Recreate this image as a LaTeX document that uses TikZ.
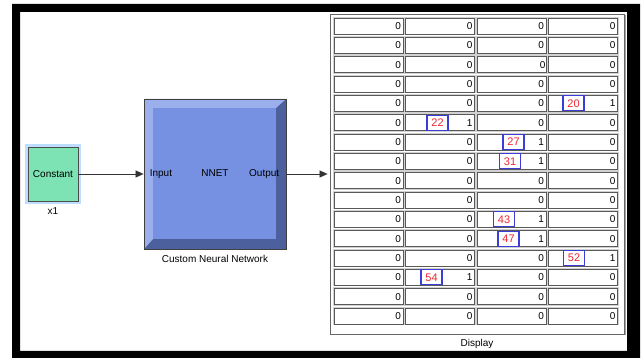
\documentclass[tikz,border=0pt]{standalone}
\usepackage{fontspec}
\setmainfont{Liberation Sans}
\usetikzlibrary{arrows.meta,shadows}

\definecolor{nnetface}{RGB}{118,145,226}
\definecolor{nnetlight}{RGB}{155,175,236}
\definecolor{nnetdark}{RGB}{76,96,158}
\definecolor{constgreen}{RGB}{125,226,180}
\definecolor{glowblue}{RGB}{190,222,255}
\definecolor{tagred}{RGB}{240,40,50}
\definecolor{tagblue}{RGB}{60,60,215}

\newcommand\lowzero{\raisebox{-2.5pt}{0}\kern-1.5pt}

\tikzset{
  constbox/.style={draw=black!70, fill=constgreen, line width=0.8pt,
    minimum width=50pt, minimum height=54pt, inner sep=0pt,
    preaction={draw=glowblue, line width=6pt}},
  nnetbox/.style={draw=black!75, fill=nnetdark, line width=0.8pt,
    minimum width=142pt, minimum height=150pt, inner sep=0pt,
    text height=7pt, text depth=2pt,
    path picture={
      \fill[nnetlight] (path picture bounding box.north west)
        -- (path picture bounding box.north east)
        -- ([xshift=-10pt,yshift=-9pt]path picture bounding box.north east)
        -- ([xshift=9pt,yshift=-9pt]path picture bounding box.north west)
        -- ([xshift=9pt,yshift=10pt]path picture bounding box.south west)
        -- (path picture bounding box.south west) -- cycle;
      \fill[nnetface] ([xshift=9pt,yshift=-9pt]path picture bounding box.north west)
        rectangle ([xshift=-10pt,yshift=10pt]path picture bounding box.south east);
    }},
  portlbl/.style={inner sep=0pt},
  panel/.style={draw=black!60, fill=white, line width=0.8pt,
    minimum width=294pt, minimum height=320pt,
    drop shadow={shadow xshift=1.5pt, shadow yshift=-1.5pt, fill=black!60, opacity=0.6}},
  cellbox/.style={draw=black!65, fill=white, line width=0.7pt,
    preaction={draw=black!18, line width=2.4pt},
    minimum width=69pt, minimum height=16pt, text width=65pt,
    align=right, inner xsep=2pt, inner ysep=0pt},
  tagbox/.style={draw=tagblue, fill=white, text=tagred, line width=1.1pt,
    minimum width=21pt, minimum height=15pt, inner sep=0pt,
    font=\fontsize{11}{12}\selectfont},
  conn/.style={-{Triangle[length=8pt,width=7pt]}, black!80, line width=0.7pt},
}

\begin{document}
\begin{tikzpicture}[x=1pt,y=-1pt,every node/.style={font=\fontsize{10}{12}\selectfont}]
  \useasboundingbox (0,0) rectangle (641,358);
  % window frame
  \fill[black, even odd rule] (12,4) rectangle (640,358) (20,12) rectangle (627,351);

  % blocks
  \node[constbox] (const) at (53,174) {Constant};
  \node (x1) at (53,211) {x1};
  \node[nnetbox] (nnet) at (215,174) {NNET};
  \node[portlbl, anchor=base west] (nin) at ([xshift=6pt]nnet.base west) {Input};
  \node[portlbl, anchor=base east] (nout) at ([xshift=-7pt]nnet.base east) {Output};
  \node (nnetname) at (215,259) {Custom Neural Network};
  \node[panel] (disp) at (477,174) {};
  \node (dispname) at (477,344) {Display};

  % display cells
  \foreach \vals [count=\r] in {{0,0,0,0},{0,0,0,0},{0,0,\lowzero,0},{0,0,0,0},
      {0,0,0,1},{0,1,0,0},{0,0,1,0},{0,0,1,0},{0,0,0,0},{0,0,0,0},
      {0,0,1,0},{0,0,1,0},{0,0,0,1},{0,1,0,0},{0,0,0,0},{0,0,0,0}}
    \foreach \v [count=\k] in \vals
      \node[cellbox] (c\r-\k) at ({368.5+71.5*(\k-1)},{26+19.33*(\r-1)}) {\v};

  % tags
  \foreach \cell/\dx/\t in {c5-4/-9.5/20, c6-2/-2.5/22, c7-3/2/27, c8-3/-1.5/31,
      c11-3/-7.5/43, c12-3/-3/47, c13-4/-9/52, c14-2/-8.5/54}
    \node[tagbox] (t\t) at ([xshift=\dx pt]\cell.center) {\t};

  \draw[conn] (const.east) -- (const.east -| nnet.west);
  \draw[conn, shorten >=2pt] (nnet.east) -- (disp.west);

\end{tikzpicture}
\end{document}
